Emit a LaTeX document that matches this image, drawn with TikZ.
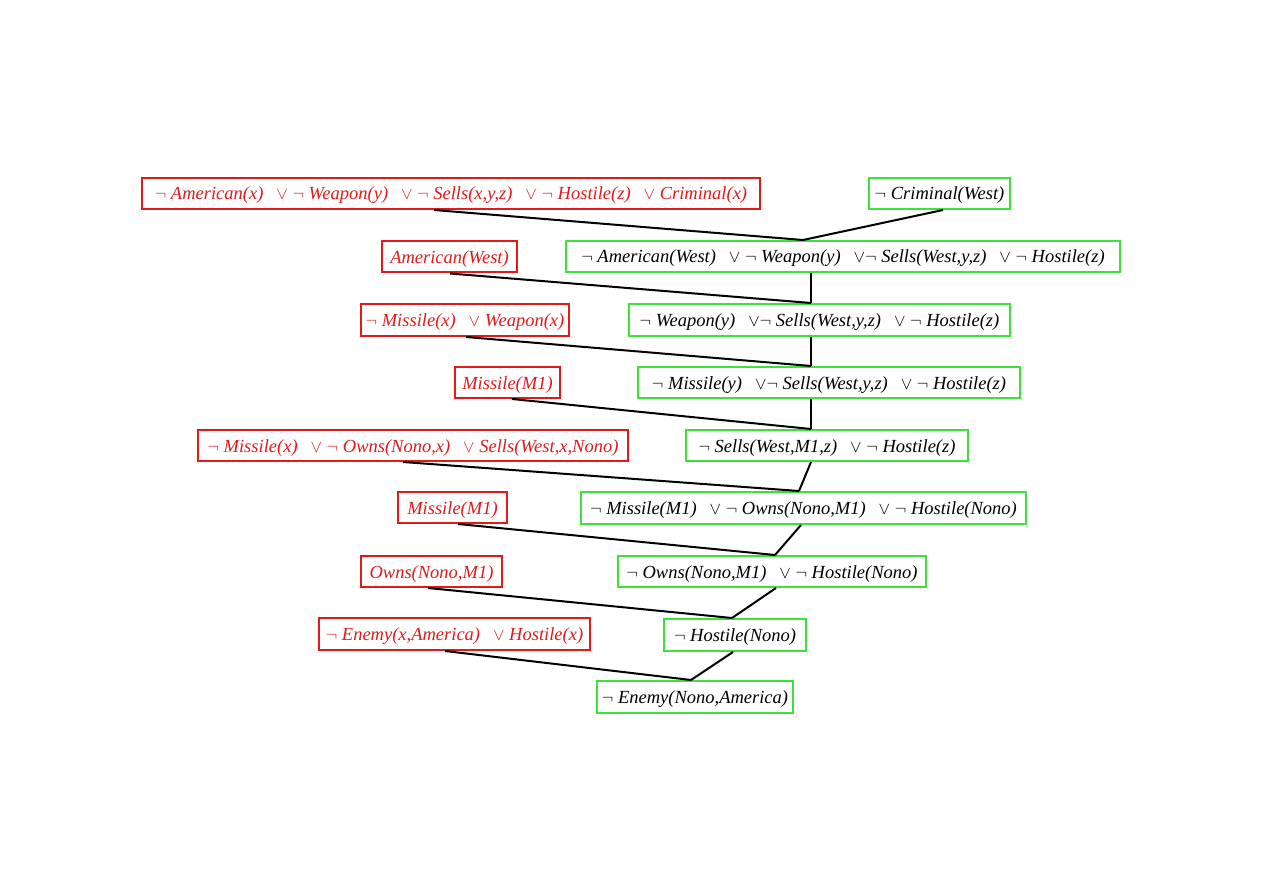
\documentclass[tikz,border=0pt]{standalone}
\usepackage{fontspec}
\setmainfont{Liberation Serif}
\definecolor{boxred}{RGB}{225,25,25}
\definecolor{boxgreen}{RGB}{60,225,60}
\newcommand{\Ng}{$\neg$\ }
\newcommand{\Or}{\hspace{0.7em}$\vee$\ }
\begin{document}
\begin{tikzpicture}[x=1pt,y=-1pt,
  clause/.style={draw, line width=2pt, inner sep=0pt, text height=15pt, text depth=2pt,
    font=\fontsize{18.5}{22}\selectfont\itshape},
  redc/.style={clause, draw=boxred, text=boxred},
  greenc/.style={clause, draw=boxgreen, text=black},
  link/.style={line width=2pt, black}]
\useasboundingbox (0,0) rectangle (1263,893);
% row 1
\node[redc, minimum width=618pt, minimum height=31pt] (r1) at (451,193.5)
  {\Ng American(x)\Or \Ng Weapon(y)\Or \Ng Sells(x,y,z)\Or \Ng Hostile(z)\Or Criminal(x)};
\node[greenc, minimum width=141pt, minimum height=31pt] (g1) at (939.5,193.5)
  {\Ng Criminal(West)};
% row 2
\node[redc, minimum width=135pt, minimum height=31pt] (r2) at (449.5,257)
  {American(West)};
\node[greenc, minimum width=554pt, minimum height=31pt] (g2) at (843,256.5)
  {\Ng American(West)\Or \Ng Weapon(y)\hspace{0.7em}$\vee\neg$\ Sells(West,y,z)\Or \Ng Hostile(z)};
% row 3
\node[redc, minimum width=208pt, minimum height=32pt] (r3) at (465,320)
  {\Ng Missile(x)\Or Weapon(x)};
\node[greenc, minimum width=381pt, minimum height=32pt] (g3) at (819.5,320)
  {\Ng Weapon(y)\hspace{0.7em}$\vee\neg$\ Sells(West,y,z)\Or \Ng Hostile(z)};
% row 4
\node[redc, minimum width=105pt, minimum height=31pt] (r4) at (507.5,382.5)
  {Missile(M1)};
\node[greenc, minimum width=382pt, minimum height=31pt] (g4) at (829,382.5)
  {\Ng Missile(y)\hspace{0.7em}$\vee\neg$\ Sells(West,y,z)\Or \Ng Hostile(z)};
% row 5
\node[redc, minimum width=430pt, minimum height=31pt] (r5) at (413,445.5)
  {\Ng Missile(x)\Or \Ng Owns(Nono,x)\Or Sells(West,x,Nono)};
\node[greenc, minimum width=282pt, minimum height=31pt] (g5) at (827,445.5)
  {\Ng Sells(West,M1,z)\Or \Ng Hostile(z)};
% row 6
\node[redc, minimum width=109pt, minimum height=31pt] (r6) at (452.5,507.5)
  {Missile(M1)};
\node[greenc, minimum width=445pt, minimum height=32pt] (g6) at (803.5,508)
  {\Ng Missile(M1)\Or \Ng Owns(Nono,M1)\Or \Ng Hostile(Nono)};
% row 7
\node[redc, minimum width=141pt, minimum height=31pt] (r7) at (431.5,571.5)
  {Owns(Nono,M1)};
\node[greenc, minimum width=308pt, minimum height=31pt] (g7) at (772,571.5)
  {\Ng Owns(Nono,M1)\Or \Ng Hostile(Nono)};
% row 8
\node[redc, minimum width=271pt, minimum height=32pt] (r8) at (454.5,634)
  {\Ng Enemy(x,America)\Or Hostile(x)};
\node[greenc, minimum width=142pt, minimum height=32pt] (g8) at (735,635)
  {\Ng Hostile(Nono)};
% row 9
\node[greenc, minimum width=196pt, minimum height=32pt] (g9) at (695,697)
  {\Ng Enemy(Nono,America)};
% connectors
\draw[link] ([xshift=-17pt]r1.south) -- ([xshift=-40pt]g2.north);
\draw[link] ([xshift=3.5pt]g1.south) -- ([xshift=-40pt]g2.north);
\draw[link] ([xshift=0.5pt]r2.south) -- ([xshift=-8.5pt]g3.north);
\draw[link] ([xshift=-32pt]g2.south) -- ([xshift=-8.5pt]g3.north);
\draw[link] ([xshift=1pt]r3.south) -- ([xshift=-18pt]g4.north);
\draw[link] ([xshift=-8.5pt]g3.south) -- ([xshift=-18pt]g4.north);
\draw[link] ([xshift=4.5pt]r4.south) -- ([xshift=-16pt]g5.north);
\draw[link] ([xshift=-18pt]g4.south) -- ([xshift=-16pt]g5.north);
\draw[link] ([xshift=-10pt]r5.south) -- ([xshift=-4.5pt]g6.north);
\draw[link] ([xshift=-16pt]g5.south) -- ([xshift=-4.5pt]g6.north);
\draw[link] ([xshift=5.5pt]r6.south) -- ([xshift=3pt]g7.north);
\draw[link] ([xshift=-2.5pt]g6.south) -- ([xshift=3pt]g7.north);
\draw[link] ([xshift=-3.5pt]r7.south) -- ([xshift=-3pt]g8.north);
\draw[link] ([xshift=4pt]g7.south) -- ([xshift=-3pt]g8.north);
\draw[link] ([xshift=-9.5pt]r8.south) -- ([xshift=-4pt]g9.north);
\draw[link] ([xshift=-2pt]g8.south) -- ([xshift=-4pt]g9.north);
\end{tikzpicture}
\end{document}
